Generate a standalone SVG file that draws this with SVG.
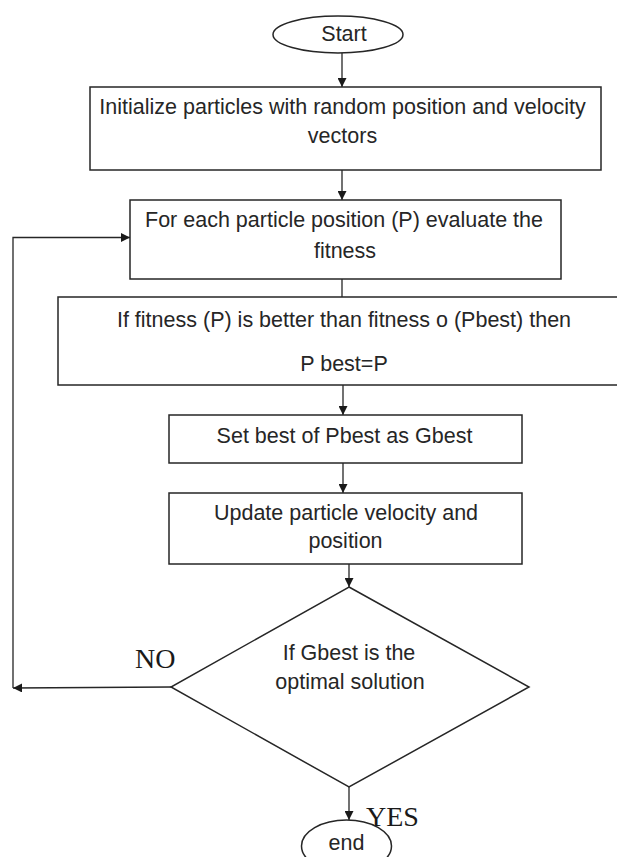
<svg xmlns="http://www.w3.org/2000/svg" width="617" height="857" viewBox="0 0 617 857">
  <style>
    .shape { fill: #ffffff; stroke: #262626; stroke-width: 1.5; }
    .conn { fill: none; stroke: #262626; stroke-width: 1.3; }
    .txt { font-family: "Liberation Sans", Arial, sans-serif; font-size: 21.5px; fill: #262626; text-anchor: middle; }
    .lbl { font-family: "Liberation Serif", "Times New Roman", serif; font-size: 28px; fill: #1a1a1a; }
  </style>
  <defs>
    <marker id="arrow" viewBox="0 0 10 10" refX="10" refY="5" markerWidth="9" markerHeight="9" markerUnits="userSpaceOnUse" orient="auto">
      <path d="M0,0 L10,5 L0,10 Z" fill="#1a1a1a"/>
    </marker>
  </defs>
  <rect x="0" y="0" width="617" height="857" fill="#ffffff"/>

  <g id="connectors">
    <path class="conn" d="M342,53 L342,87" marker-end="url(#arrow)"/>
    <path class="conn" d="M342,170 L342,200" marker-end="url(#arrow)"/>
    <path class="conn" d="M342,279 L342,297"/>
    <path class="conn" d="M343,385 L343,415" marker-end="url(#arrow)"/>
    <path class="conn" d="M343,463 L343,493" marker-end="url(#arrow)"/>
    <path class="conn" d="M349,564 L349,587" marker-end="url(#arrow)"/>
    <path class="conn" d="M171,687 L13,688" marker-end="url(#arrow)"/>
    <path class="conn" d="M13,688 L13,237.5 L130,237.5" marker-end="url(#arrow)"/>
    <path class="conn" d="M349,787 L349,820" marker-end="url(#arrow)"/>
    <text class="lbl" x="135" y="668">NO</text>
    <text class="lbl" x="366" y="826">YES</text>
  </g>

  <g id="start">
    <ellipse class="shape" cx="338" cy="34.5" rx="65" ry="18.5"/>
    <text class="txt" x="344" y="41">Start</text>
  </g>

  <g id="init">
    <rect class="shape" x="90" y="87" width="511" height="83"/>
    <text class="txt" x="342.5" y="114">Initialize particles with random position and velocity</text>
    <text class="txt" x="342.5" y="143">vectors</text>
  </g>

  <g id="evaluate">
    <rect class="shape" x="130" y="200" width="431" height="79"/>
    <text class="txt" x="344" y="227">For each particle position (P) evaluate the</text>
    <text class="txt" x="345" y="258">fitness</text>
  </g>

  <g id="compare">
    <rect class="shape" x="58" y="297" width="570" height="88"/>
    <text class="txt" x="344" y="327">If fitness (P) is better than fitness o (Pbest) then</text>
    <text class="txt" x="344" y="371">P best=P</text>
  </g>

  <g id="gbest">
    <rect class="shape" x="169" y="415" width="353" height="48"/>
    <text class="txt" x="344.5" y="443">Set best of Pbest as Gbest</text>
  </g>

  <g id="update">
    <rect class="shape" x="169" y="493" width="353" height="71"/>
    <text class="txt" x="346" y="520">Update particle velocity and</text>
    <text class="txt" x="345.5" y="548">position</text>
  </g>

  <g id="decision">
    <polygon class="shape" points="349,587 529,687 349,787 171,687"/>
    <text class="txt" x="349" y="660">If Gbest is the</text>
    <text class="txt" x="350" y="689">optimal solution</text>
  </g>

  <g id="end">
    <ellipse class="shape" cx="346.5" cy="846" rx="45" ry="26"/>
    <text class="txt" x="346.5" y="850" font-size="20">end</text>
  </g>
</svg>
